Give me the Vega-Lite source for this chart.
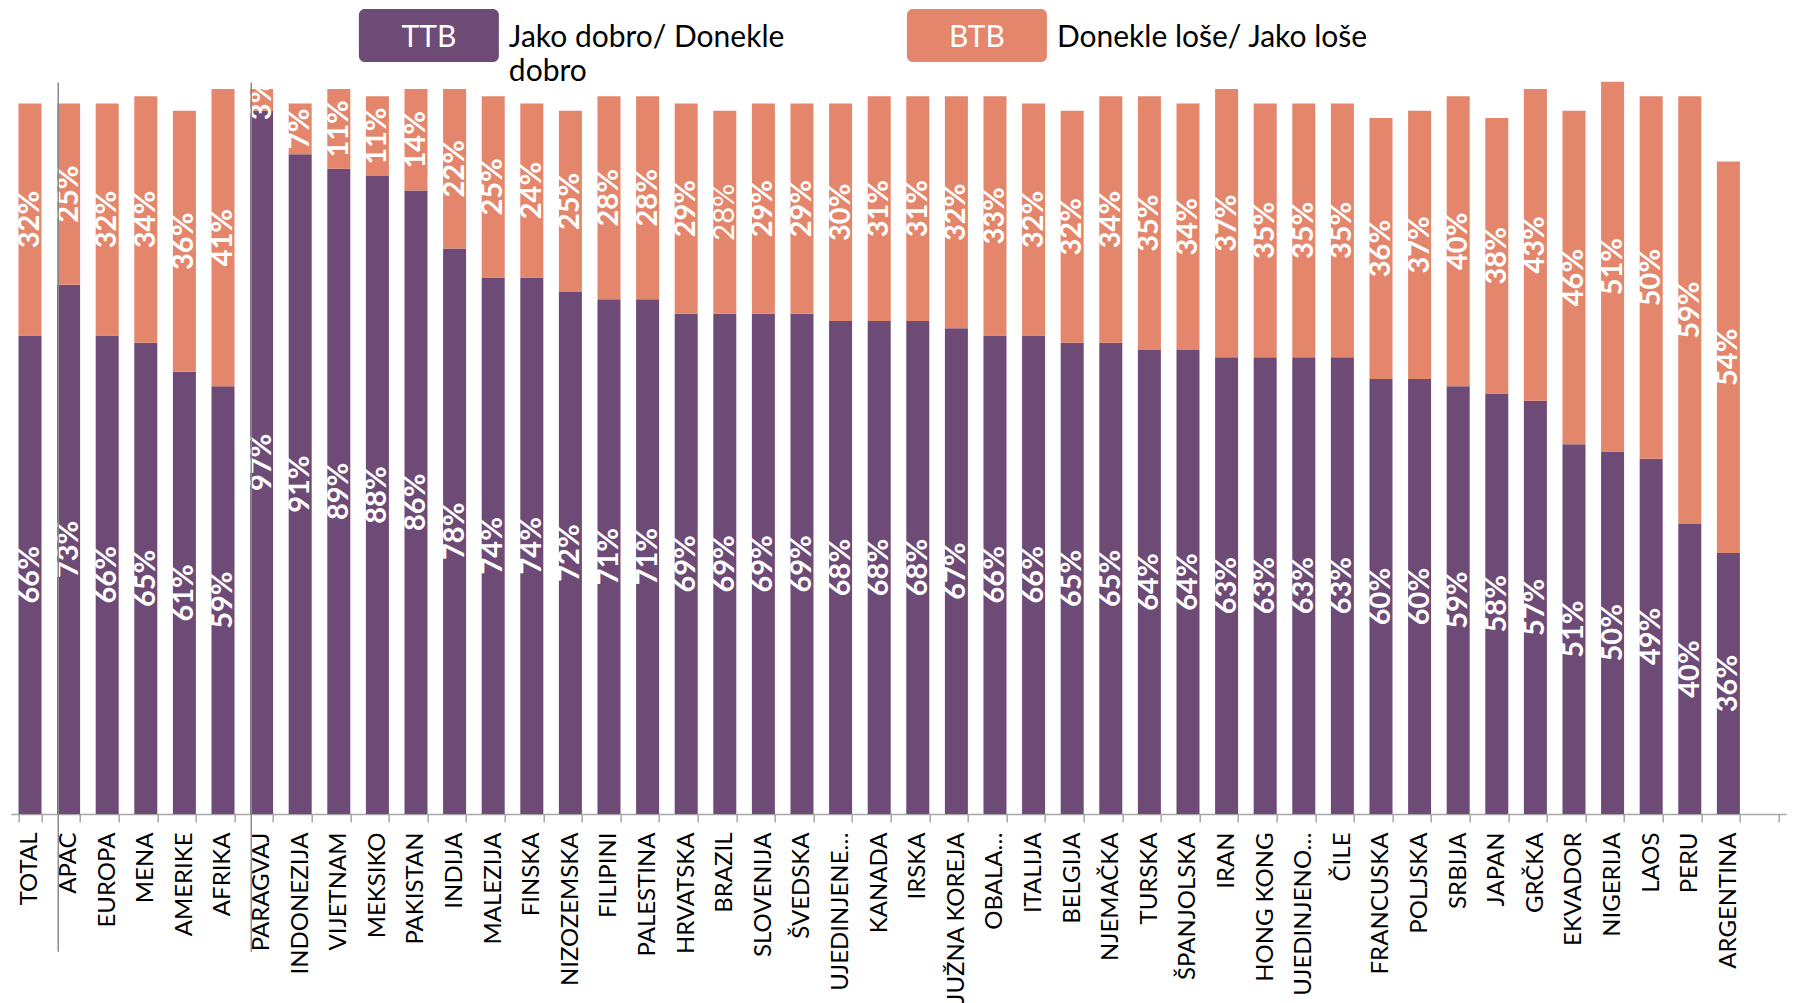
{
  "$schema": "https://vega.github.io/schema/vega-lite/v6.json",
  "padding": {"top": 9, "left": -1.3, "right": 0, "bottom": 0},
  "background": "white",
  "spacing": 27,
  "bounds": "flush",
  "config": {"view": {"stroke": null}, "font": "Lato"},
  "datasets": {
    "legend": [
      {"series": "TTB", "desc": "Jako dobro/ Donekle\ndobro"},
      {"series": "BTB", "desc": "Donekle loše/ Jako loše"}
    ],
    "bars": [
      {"c": "TOTAL", "s": "TTB", "v": 66}, {"c": "TOTAL", "s": "BTB", "v": 32},
      {"c": "APAC", "s": "TTB", "v": 73}, {"c": "APAC", "s": "BTB", "v": 25},
      {"c": "EUROPA", "s": "TTB", "v": 66}, {"c": "EUROPA", "s": "BTB", "v": 32},
      {"c": "MENA", "s": "TTB", "v": 65}, {"c": "MENA", "s": "BTB", "v": 34},
      {"c": "AMERIKE", "s": "TTB", "v": 61}, {"c": "AMERIKE", "s": "BTB", "v": 36},
      {"c": "AFRIKA", "s": "TTB", "v": 59}, {"c": "AFRIKA", "s": "BTB", "v": 41},
      {"c": "PARAGVAJ", "s": "TTB", "v": 97}, {"c": "PARAGVAJ", "s": "BTB", "v": 3},
      {"c": "INDONEZIJA", "s": "TTB", "v": 91}, {"c": "INDONEZIJA", "s": "BTB", "v": 7},
      {"c": "VIJETNAM", "s": "TTB", "v": 89}, {"c": "VIJETNAM", "s": "BTB", "v": 11},
      {"c": "MEKSIKO", "s": "TTB", "v": 88}, {"c": "MEKSIKO", "s": "BTB", "v": 11},
      {"c": "PAKISTAN", "s": "TTB", "v": 86}, {"c": "PAKISTAN", "s": "BTB", "v": 14},
      {"c": "INDIJA", "s": "TTB", "v": 78}, {"c": "INDIJA", "s": "BTB", "v": 22},
      {"c": "MALEZIJA", "s": "TTB", "v": 74}, {"c": "MALEZIJA", "s": "BTB", "v": 25},
      {"c": "FINSKA", "s": "TTB", "v": 74}, {"c": "FINSKA", "s": "BTB", "v": 24},
      {"c": "NIZOZEMSKA", "s": "TTB", "v": 72}, {"c": "NIZOZEMSKA", "s": "BTB", "v": 25},
      {"c": "FILIPINI", "s": "TTB", "v": 71}, {"c": "FILIPINI", "s": "BTB", "v": 28},
      {"c": "PALESTINA", "s": "TTB", "v": 71}, {"c": "PALESTINA", "s": "BTB", "v": 28},
      {"c": "HRVATSKA", "s": "TTB", "v": 69}, {"c": "HRVATSKA", "s": "BTB", "v": 29},
      {"c": "BRAZIL", "s": "TTB", "v": 69}, {"c": "BRAZIL", "s": "BTB", "v": 28},
      {"c": "SLOVENIJA", "s": "TTB", "v": 69}, {"c": "SLOVENIJA", "s": "BTB", "v": 29},
      {"c": "ŠVEDSKA", "s": "TTB", "v": 69}, {"c": "ŠVEDSKA", "s": "BTB", "v": 29},
      {"c": "UJEDINJENE…", "s": "TTB", "v": 68}, {"c": "UJEDINJENE…", "s": "BTB", "v": 30},
      {"c": "KANADA", "s": "TTB", "v": 68}, {"c": "KANADA", "s": "BTB", "v": 31},
      {"c": "IRSKA", "s": "TTB", "v": 68}, {"c": "IRSKA", "s": "BTB", "v": 31},
      {"c": "JUŽNA KOREJA", "s": "TTB", "v": 67}, {"c": "JUŽNA KOREJA", "s": "BTB", "v": 32},
      {"c": "OBALA…", "s": "TTB", "v": 66}, {"c": "OBALA…", "s": "BTB", "v": 33},
      {"c": "ITALIJA", "s": "TTB", "v": 66}, {"c": "ITALIJA", "s": "BTB", "v": 32},
      {"c": "BELGIJA", "s": "TTB", "v": 65}, {"c": "BELGIJA", "s": "BTB", "v": 32},
      {"c": "NJEMAČKA", "s": "TTB", "v": 65}, {"c": "NJEMAČKA", "s": "BTB", "v": 34},
      {"c": "TURSKA", "s": "TTB", "v": 64}, {"c": "TURSKA", "s": "BTB", "v": 35},
      {"c": "ŠPANJOLSKA", "s": "TTB", "v": 64}, {"c": "ŠPANJOLSKA", "s": "BTB", "v": 34},
      {"c": "IRAN", "s": "TTB", "v": 63}, {"c": "IRAN", "s": "BTB", "v": 37},
      {"c": "HONG KONG", "s": "TTB", "v": 63}, {"c": "HONG KONG", "s": "BTB", "v": 35},
      {"c": "UJEDINJENO…", "s": "TTB", "v": 63}, {"c": "UJEDINJENO…", "s": "BTB", "v": 35},
      {"c": "ČILE", "s": "TTB", "v": 63}, {"c": "ČILE", "s": "BTB", "v": 35},
      {"c": "FRANCUSKA", "s": "TTB", "v": 60}, {"c": "FRANCUSKA", "s": "BTB", "v": 36},
      {"c": "POLJSKA", "s": "TTB", "v": 60}, {"c": "POLJSKA", "s": "BTB", "v": 37},
      {"c": "SRBIJA", "s": "TTB", "v": 59}, {"c": "SRBIJA", "s": "BTB", "v": 40},
      {"c": "JAPAN", "s": "TTB", "v": 58}, {"c": "JAPAN", "s": "BTB", "v": 38},
      {"c": "GRČKA", "s": "TTB", "v": 57}, {"c": "GRČKA", "s": "BTB", "v": 43},
      {"c": "EKVADOR", "s": "TTB", "v": 51}, {"c": "EKVADOR", "s": "BTB", "v": 46},
      {"c": "NIGERIJA", "s": "TTB", "v": 50}, {"c": "NIGERIJA", "s": "BTB", "v": 51},
      {"c": "LAOS", "s": "TTB", "v": 49}, {"c": "LAOS", "s": "BTB", "v": 50},
      {"c": "PERU", "s": "TTB", "v": 40}, {"c": "PERU", "s": "BTB", "v": 59},
      {"c": "ARGENTINA", "s": "TTB", "v": 36}, {"c": "ARGENTINA", "s": "BTB", "v": 54}
    ]
  },
  "vconcat": [
    {
      "data": {"name": "legend"},
      "width": 1384.4,
      "height": 53,
      "encoding": {
        "x": {"field": "series", "type": "nominal", "scale": {"type": "point", "domain": ["TTB", "BTB"], "padding": 0.763}, "axis": null}
      },
      "layer": [
        {
          "mark": {"type": "rect", "width": 140, "cornerRadius": 6},
          "encoding": {
            "color": {"field": "series", "type": "nominal", "scale": {"domain": ["TTB", "BTB"], "range": ["#6e4a76", "#e4866b"]}, "legend": null}
          }
        },
        {
          "mark": {"type": "text", "font": "Lato", "fontSize": 30, "color": "white", "baseline": "alphabetic", "dy": 11},
          "encoding": {"text": {"field": "series"}}
        },
        {
          "mark": {"type": "text", "font": "Lato", "fontSize": 30, "color": "black", "align": "left", "baseline": "alphabetic", "dx": 80, "dy": 11, "lineBreak": "\n", "lineHeight": 35},
          "encoding": {"text": {"field": "desc"}}
        }
      ]
    },
    {
      "data": {"name": "bars"},
      "width": 1775.6,
      "height": 725,
      "transform": [
        {"stack": "v", "groupby": ["c"], "sort": [{"field": "s", "order": "descending"}], "as": ["y0", "y1"]},
        {"calculate": "(datum.y0 + datum.y1) / 2", "as": "mid"},
        {"calculate": "datum.v + '%'", "as": "lbl"}
      ],
      "encoding": {
        "x": {
          "field": "c",
          "type": "nominal",
          "scale": {
            "domain": ["TOTAL", "APAC", "EUROPA", "MENA", "AMERIKE", "AFRIKA", "PARAGVAJ", "INDONEZIJA", "VIJETNAM", "MEKSIKO", "PAKISTAN", "INDIJA", "MALEZIJA", "FINSKA", "NIZOZEMSKA", "FILIPINI", "PALESTINA", "HRVATSKA", "BRAZIL", "SLOVENIJA", "ŠVEDSKA", "UJEDINJENE…", "KANADA", "IRSKA", "JUŽNA KOREJA", "OBALA…", "ITALIJA", "BELGIJA", "NJEMAČKA", "TURSKA", "ŠPANJOLSKA", "IRAN", "HONG KONG", "UJEDINJENO…", "ČILE", "FRANCUSKA", "POLJSKA", "SRBIJA", "JAPAN", "GRČKA", "EKVADOR", "NIGERIJA", "LAOS", "PERU", "ARGENTINA", " "],
            "paddingInner": 0.404,
            "paddingOuter": 0.202
          },
          "axis": {
            "title": null,
            "labelAngle": 270,
            "labelAlign": "right",
            "labelBaseline": "middle",
            "labelFont": "Lato",
            "labelFontSize": 24,
            "labelColor": "black",
            "labelPadding": 10,
            "labelLimit": 400,
            "labelOverlap": false,
            "tickSize": 8,
            "tickBand": "extent",
            "domainColor": "#a6a6a6",
            "tickColor": "#a6a6a6",
            "domainWidth": 1.5,
            "tickWidth": 1.5,
            "grid": false
          }
        }
      },
      "layer": [
        {
          "mark": {"type": "bar"},
          "encoding": {
            "y": {"field": "y1", "type": "quantitative", "scale": {"domain": [0, 100], "nice": false, "zero": true}, "axis": null},
            "y2": {"field": "y0"},
            "color": {"field": "s", "type": "nominal", "scale": {"domain": ["TTB", "BTB"], "range": ["#6e4a76", "#e4866b"]}, "legend": null}
          }
        },
        {
          "transform": [{"filter": "!(datum.c === 'BRAZIL' && datum.s === 'BTB')"}],
          "mark": {"type": "text", "angle": 270, "font": "Lato", "fontSize": 29, "fontWeight": "bold", "color": "white", "align": "center", "baseline": "middle"},
          "encoding": {
            "y": {"field": "mid", "type": "quantitative"},
            "text": {"field": "lbl"}
          }
        },
        {
          "transform": [{"filter": "datum.c === 'BRAZIL' && datum.s === 'BTB'"}],
          "mark": {"type": "text", "angle": 270, "font": "Lato", "fontSize": 29, "fontWeight": "normal", "color": "white", "align": "center", "baseline": "middle"},
          "encoding": {
            "y": {"field": "mid", "type": "quantitative"},
            "text": {"field": "lbl"}
          }
        },
        {
          "transform": [{"filter": "(datum.c === 'APAC' || datum.c === 'PARAGVAJ') && datum.s === 'TTB'"}],
          "mark": {"type": "rule", "color": "#8c8c8c", "strokeWidth": 1.5},
          "encoding": {
            "x": {"field": "c", "type": "nominal", "bandPosition": 0.05},
            "y": {"datum": 100.9},
            "y2": {"datum": -19}
          }
        }
      ]
    }
  ]
}
